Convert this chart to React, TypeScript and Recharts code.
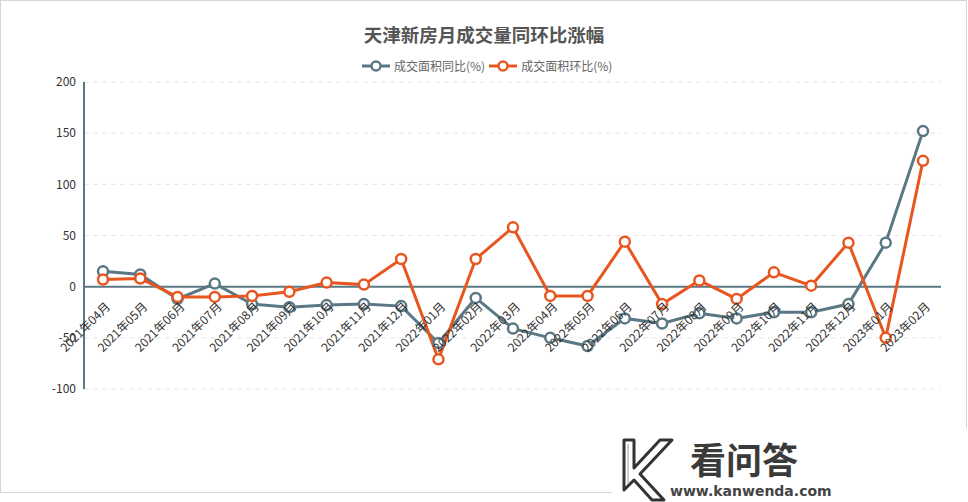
import React from "react";
import {
  LineChart,
  Line,
  XAxis,
  YAxis,
  CartesianGrid,
  ReferenceLine,
} from "recharts";

// 月份
const months = [
  "2021年04月", "2021年05月", "2021年06月", "2021年07月", "2021年08月", "2021年09月",
  "2021年10月", "2021年11月", "2021年12月", "2022年01月", "2022年02月", "2022年03月",
  "2022年04月", "2022年05月", "2022年06月", "2022年07月", "2022年08月", "2022年09月",
  "2022年10月", "2022年11月", "2022年12月", "2023年01月", "2023年02月",
];

// 成交面积同比(%)
const yoy = [
  15, 12, -12, 3, -17, -20, -18, -17, -19, -55, -11, -41,
  -50, -58, -31, -36, -26, -31, -25, -25, -17, 43, 152,
];

// 成交面积环比(%)
const mom = [
  7, 8, -10, -10, -9, -5, 4, 2, 27, -71, 27, 58,
  -9, -9, 44, -17, 6, -12, 14, 1, 43, -50, 123,
];

const yTicks = [-100, -50, 0, 50, 100, 150, 200];

const title = "天津新房月成交量同环比涨幅";
const nameYoy = "成交面积同比(%)";
const nameMom = "成交面积环比(%)";

const GREY = "#5a7884";
const ORANGE = "#e8561f";
const FONT = "'Microsoft YaHei', 'Noto Sans CJK SC', 'Noto Sans', sans-serif";

const W = 968;
const H = 502;
const TOP = 82;
const BOTTOM = 113;
const Y_MIN = -100;
const Y_MAX = 200;
// x 轴标签贴着 0 线
const zeroY = TOP + ((H - TOP - BOTTOM) * (Y_MAX - 0)) / (Y_MAX - Y_MIN);

const rows = months.map((m, i) => ({ m, yoy: yoy[i], mom: mom[i] }));

const MonthTick = ({ x, payload }: any) => {
  const ax = x + 4;
  const ay = zeroY + 17;
  return (
    <text
      x={ax}
      y={ay}
      textAnchor="end"
      dominantBaseline="central"
      fontSize={12}
      fontFamily={FONT}
      fill="#333"
      transform={`rotate(-45 ${ax} ${ay})`}
    >
      {payload.value}
    </text>
  );
};

const dot = (color: string) => ({
  r: 5,
  fill: "#fff",
  stroke: color,
  strokeWidth: 2.5,
});

const LegendIcon = ({ color }: { color: string }) => (
  <svg width={28} height={14} style={{ display: "block" }}>
    <line x1={0} y1={7} x2={28} y2={7} stroke={color} strokeWidth={3} />
    <circle cx={14} cy={7} r={4.5} fill="#fff" stroke={color} strokeWidth={2.5} />
  </svg>
);

export default function App() {
  return (
    <div
      style={{
        position: "absolute",
        left: 0,
        top: 0,
        width: W,
        height: H,
        background: "#fff",
        fontFamily: FONT,
      }}
    >
      {/* 外框 */}
      <div
        style={{
          position: "absolute",
          left: 0,
          top: 0,
          width: 967,
          height: 493,
          border: "1px solid #d6d6d6",
          boxSizing: "border-box",
        }}
      />
      <div
        style={{
          position: "absolute",
          top: 22,
          left: 0,
          width: W,
          textAlign: "center",
          fontSize: 18.5,
          fontWeight: "bold",
          color: "#555",
          lineHeight: "24px",
        }}
      >
        {title}
      </div>
      <div
        style={{
          position: "absolute",
          top: 58,
          left: 362,
          display: "flex",
          alignItems: "center",
          fontSize: 12,
          color: "#666",
          lineHeight: "16px",
        }}
      >
        <LegendIcon color={GREY} />
        <span style={{ marginLeft: 4, marginRight: 4 }}>{nameYoy}</span>
        <LegendIcon color={ORANGE} />
        <span style={{ marginLeft: 4 }}>{nameMom}</span>
      </div>
      <div style={{ position: "absolute", left: 0, top: 0 }}>
        <LineChart
          width={W}
          height={H}
          data={rows}
          margin={{ top: TOP, right: 27, bottom: BOTTOM - 30, left: 24 }}
        >
          <CartesianGrid vertical={false} stroke="#e6e6e6" strokeDasharray="5 4" />
          <XAxis
            dataKey="m"
            height={30}
            axisLine={false}
            tickLine={false}
            interval={0}
            padding={{ left: 19, right: 18 }}
            tick={<MonthTick />}
          />
          <YAxis
            width={60}
            domain={[Y_MIN, Y_MAX]}
            ticks={yTicks}
            interval={0}
            axisLine={{ stroke: GREY, strokeWidth: 2 }}
            tickLine={false}
            tick={{ fontSize: 12, fill: "#333", fontFamily: FONT }}
          />
          <ReferenceLine y={0} stroke={GREY} strokeWidth={2} />
          <Line
            dataKey="yoy"
            name={nameYoy}
            type="linear"
            stroke={GREY}
            strokeWidth={3}
            dot={dot(GREY)}
            activeDot={false}
            isAnimationActive={false}
          />
          <Line
            dataKey="mom"
            name={nameMom}
            type="linear"
            stroke={ORANGE}
            strokeWidth={3}
            dot={dot(ORANGE)}
            activeDot={false}
            isAnimationActive={false}
          />
        </LineChart>
      </div>
      {/* 水印 */}
      <div
        style={{
          position: "absolute",
          left: 612,
          top: 428,
          width: 356,
          height: 74,
          background: "#fff",
        }}
      >
        <svg
          width={60}
          height={64}
          style={{ position: "absolute", left: 8, top: 10 }}
        >
          <path
            d="M4 2 L14 2 L14 30 L40 2 L52 2 L20 36 L44 62 L32 62 L14 42 L4 52 Z"
            fill="none"
            stroke="#333"
            strokeWidth={3}
            strokeLinejoin="round"
          />
          <path d="M8 6 L8 46" stroke="#999" strokeWidth={1} />
        </svg>
        <div
          style={{
            position: "absolute",
            left: 78,
            top: 12,
            fontSize: 36,
            fontWeight: "bold",
            color: "#3a3a3a",
            lineHeight: "36px",
          }}
        >
          看问答
        </div>
        <div
          style={{
            position: "absolute",
            left: 58,
            top: 55,
            fontSize: 14,
            fontWeight: "bold",
            color: "#444",
            lineHeight: "17px",
            fontFamily: "'DejaVu Sans', sans-serif",
          }}
        >
          www.kanwenda.com
        </div>
      </div>
    </div>
  );
}
